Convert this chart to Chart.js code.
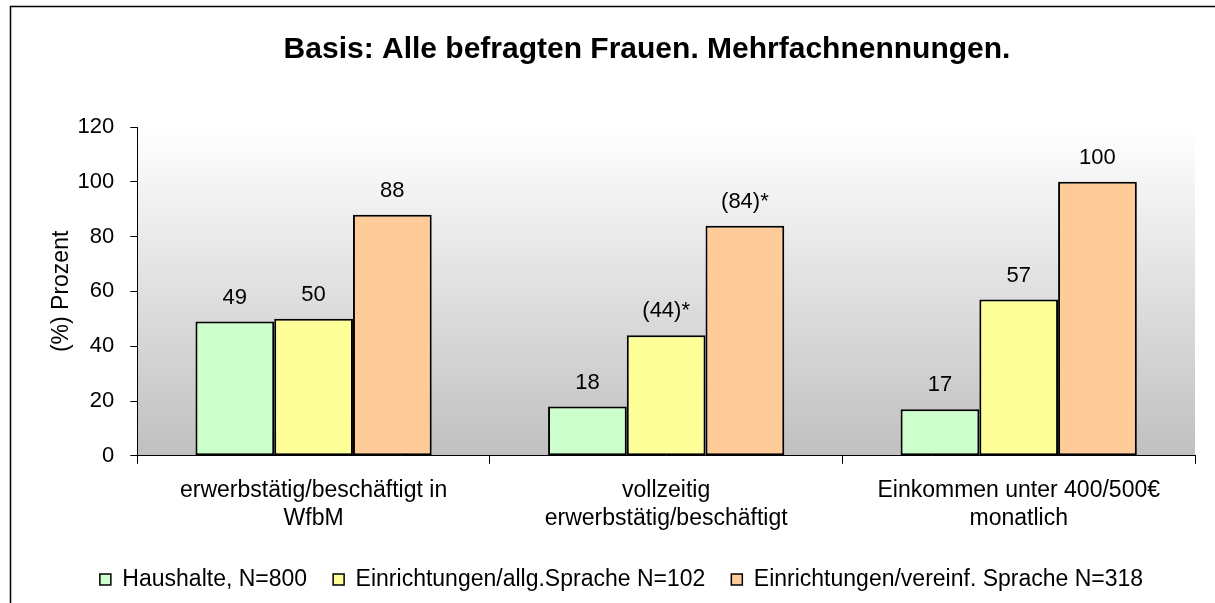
<!DOCTYPE html>
<html>
<head>
<meta charset="utf-8">
<script src="https://cdn.jsdelivr.net/npm/chart.js@4"></script>
<style>
  html, body { margin: 0; padding: 0; background: #fff; }
  #wrap { width: 1215px; height: 603px; position: relative; }
</style>
</head>
<body>
<div id="wrap"><canvas id="chart"></canvas></div>
<script>
// =============================================
// Data
// =============================================
const categories = [
  ['erwerbstätig/beschäftigt in', 'WfbM'],
  ['vollzeitig', 'erwerbstätig/beschäftigt'],
  ['Einkommen unter 400/500€', 'monatlich']
];
const seriesNames = [
  'Haushalte, N=800',
  'Einrichtungen/allg.Sprache N=102',
  'Einrichtungen/vereinf. Sprache N=318'
];
const haushalte      = [49, 18, 17];
const allgSprache    = [50, 44, 57];
const vereinfSprache = [88, 84, 100];
const valueLabels = [
  ['49', '18', '17'],
  ['50', '(44)*', '57'],
  ['88', '(84)*', '100']
];
const yTicks = [0, 20, 40, 60, 80, 100, 120];
const chartTitle = 'Basis: Alle befragten Frauen. Mehrfachnennungen.';

const colors = ['#CCFFCC', '#FFFF99', '#FFCC99'];
const FONT = '"Liberation Sans", Arial, sans-serif';

// =============================================
// Plugins
// =============================================
const decorPlugin = {
  id: 'decor',
  beforeDraw(chart) {
    const { ctx, chartArea: a } = chart;
    ctx.save();
    // outer frame
    ctx.strokeStyle = '#000';
    ctx.lineWidth = 1.5;
    ctx.strokeRect(10.5, 6.5, 1300, 700);
    // plot area gradient
    const g = ctx.createLinearGradient(0, a.top, 0, a.bottom);
    g.addColorStop(0, '#ffffff');
    g.addColorStop(1, '#c0c0c0');
    ctx.fillStyle = g;
    ctx.fillRect(a.left, a.top, a.right - a.left, a.bottom - a.top);
    // title
    ctx.fillStyle = '#000';
    ctx.font = 'bold 30px ' + FONT;
    ctx.textAlign = 'center';
    ctx.textBaseline = 'middle';
    ctx.fillText(chartTitle, 647, 50);
    ctx.restore();
  },
  afterDatasetsDraw(chart) {
    const { ctx } = chart;
    ctx.save();
    ctx.fillStyle = '#000';
    ctx.font = '22px ' + FONT;
    ctx.textAlign = 'center';
    ctx.textBaseline = 'middle';
    chart.data.datasets.forEach((ds, i) => {
      chart.getDatasetMeta(i).data.forEach((bar, j) => {
        ctx.fillText(valueLabels[i][j], bar.x, bar.y - 24);
      });
    });
    ctx.restore();
  }
};

// =============================================
// Chart
// =============================================
new Chart(document.getElementById('chart'), {
  type: 'bar',
  data: {
    labels: categories,
    datasets: [haushalte, allgSprache, vereinfSprache].map((vals, i) => ({
      label: seriesNames[i],
      data: vals,
      backgroundColor: colors[i],
      borderColor: '#000',
      borderWidth: 2,
      borderSkipped: false,
      categoryPercentage: 0.67,
      barPercentage: 1
    }))
  },
  options: {
    responsive: true,
    maintainAspectRatio: false,
    animation: false,
    layout: { padding: { top: 127, left: 48, right: 20, bottom: 2 } },
    scales: {
      x: {
        afterFit: (scale) => { scale.height -= 3; },
        grid: {
          offset: true,
          drawOnChartArea: false,
          color: '#000',
          tickLength: 8,
          lineWidth: 1
        },
        border: { color: '#000', width: 1 },
        ticks: { color: '#000', font: { family: FONT, size: 23 }, maxRotation: 0, padding: 13 }
      },
      y: {
        min: 0,
        max: 120,
        afterBuildTicks: (axis) => { axis.ticks = yTicks.map(v => ({ value: v })); },
        afterFit: (scale) => { scale.width -= 16; },
        grid: { drawOnChartArea: false, color: '#000', tickLength: 7 },
        border: { color: '#000', width: 1 },
        ticks: { color: '#000', font: { family: FONT, size: 22 }, padding: 16 },
        title: {
          display: true,
          text: '(%) Prozent',
          color: '#000',
          font: { family: FONT, size: 23 },
          padding: { top: 0, bottom: 2 }
        }
      }
    },
    plugins: {
      legend: {
        position: 'bottom',
        labels: {
          color: '#000',
          font: { family: FONT, size: 23 },
          boxWidth: 11,
          boxHeight: 11,
          padding: 26,
          generateLabels: (chart) => chart.data.datasets.map((ds, i) => ({
            text: ds.label,
            fillStyle: ds.backgroundColor,
            strokeStyle: '#000',
            lineWidth: 1.5,
            datasetIndex: i
          }))
        }
      },
      tooltip: { enabled: false }
    }
  },
  plugins: [decorPlugin]
});
</script>
</body>
</html>
